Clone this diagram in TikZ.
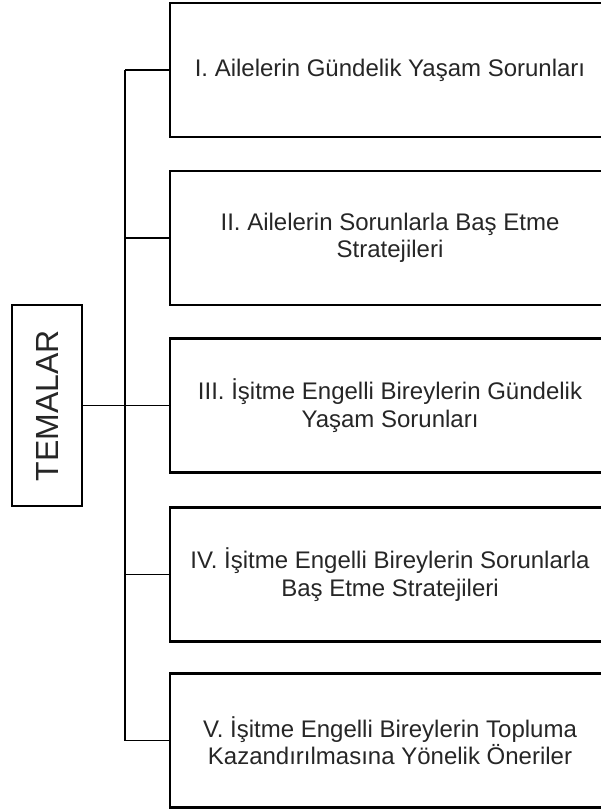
\documentclass[tikz,border=0pt]{standalone}
\usepackage{fontspec}
\setmainfont{Liberation Sans}
\begin{document}
\begin{tikzpicture}[x=0.75pt,y=-0.75pt,
  frame/.style={draw=black, line width=1.6pt, minimum width=375pt, minimum height=100.5pt,
    inner sep=0pt},
  theme/.style={inner sep=0pt, align=center, font=\fontsize{18}{20.5}\selectfont, text=black!85},
  rootbox/.style={draw=black, line width=1.6pt, minimum width=52.5pt, minimum height=150.75pt,
    inner sep=0pt},
  conn/.style={line width=1.3pt, draw=black}]
\useasboundingbox (0,0) rectangle (600,810);
\node[rootbox] (root) at (47,405.5) {};
\node[rotate=90, font=\fontsize{24}{28}\selectfont, text=black!85] (roottext) at (47,405.5) {TEMALAR};
\node[frame] (f1) at (420,70) {};
\node[frame] (f2) at (420,238) {};
\node[frame] (f3) at (420,405.5) {};
\node[frame] (f4) at (420,574.5) {};
\node[frame] (f5) at (420,740.5) {};
\node[theme] (t1) at (390,70) {I. Ailelerin Gündelik Yaşam Sorunları};
\node[theme] (t2) at (390,238) {II. Ailelerin Sorunlarla Baş Etme\\Stratejileri};
\node[theme] (t3) at (390,405.5) {III. İşitme Engelli Bireylerin Gündelik\\Yaşam Sorunları};
\node[theme] (t4) at (390,574.5) {IV. İşitme Engelli Bireylerin Sorunlarla\\Baş Etme Stratejileri};
\node[theme] (t5) at (390,740.5) {V. İşitme Engelli Bireylerin Topluma\\Kazandırılmasına Yönelik Öneriler};
\coordinate (top) at (125,70);
\coordinate (bot) at (125,740.5);
\draw[conn] (top) -- (bot);
\draw[conn] (root.east) -- (f3.west);
\foreach \f in {f1,f2,f4,f5} {\draw[conn] (top |- \f.west) -- (\f.west);}
\end{tikzpicture}
\end{document}
